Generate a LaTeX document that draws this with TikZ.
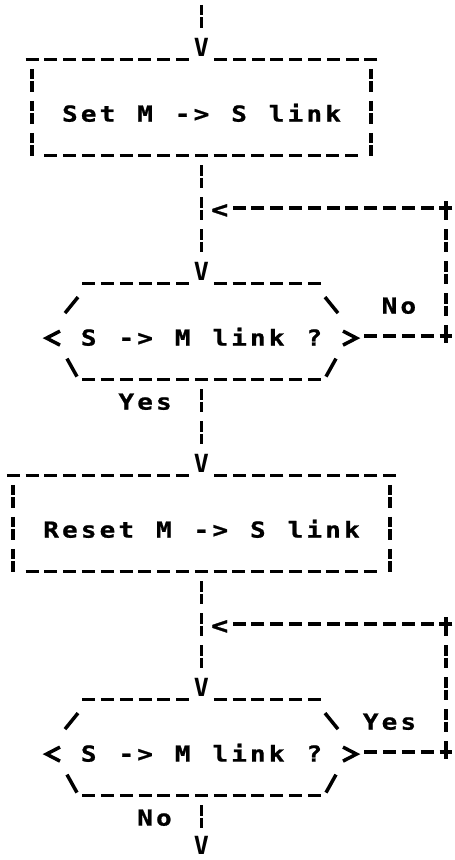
\documentclass[tikz,border=0pt]{standalone}
\usepackage{fontspec}
\newfontfamily\asciifont{DejaVu Sans Mono}
\newfontfamily\widefont[FakeStretch=1.18,FakeBold=1]{DejaVu Sans Mono}

% one fixed 18.8pt cell per character, spaces included
\ExplSyntaxOn
\NewDocumentCommand\cells{m}{\str_map_inline:nn{#1}{\makebox[18.8pt]{##1}}}
\ExplSyntaxOff

% dashed frame of a step box, V gap in the middle of the top edge
\newcommand{\stepframe}[1]{%
  \draw[ubar] ([xshift=-6.5pt]#1.north west) -- ([xshift=-12.3pt]#1.north);
  \draw[ubar] ([xshift=6.5pt]#1.north east) -- ([xshift=12.3pt]#1.north);
  \draw[ubar] ([xshift=12.3pt]#1.south west) -- ([xshift=-12.3pt]#1.south east);
  \draw[vbar] ([yshift=-9.5pt]#1.north west) -- (#1.south west);
  \draw[vbar] ([yshift=-9.5pt]#1.north east) -- (#1.south east);}

% six sided frame of a test, drawn around the base of its text
\newcommand{\testframe}[1]{%
  \begin{scope}[shift={(#1.base)}]
    \draw[ubar] (-119.3pt,62pt) -- (-12.3pt,62pt);
    \draw[ubar] (12.3pt,62pt) -- (119.3pt,62pt);
    \draw[ubar] (-119.3pt,-34pt) -- (119.3pt,-34pt);
    \draw[slant] (-136.5pt,32.5pt) -- (-123.5pt,48.5pt)
                 (136.5pt,32.5pt) -- (123.5pt,48.5pt)
                 (-141.5pt,14.5pt) -- (-155pt,7.5pt) -- (-141.5pt,0.5pt)
                 (141.5pt,14.5pt) -- (155pt,7.5pt) -- (141.5pt,0.5pt)
                 (-134.5pt,-13pt) -- (-124.5pt,-31pt)
                 (134.5pt,-13pt) -- (124.5pt,-31pt);
  \end{scope}}

\begin{document}
\begin{tikzpicture}[x=18.8pt, y=-32pt,
	txt/.style={font=\fontsize{22pt}{22pt}\widefont\bfseries, inner sep=0pt, anchor=base},
	glyph/.style={font=\fontsize{25pt}{25pt}\asciifont\bfseries, inner xsep=0pt, inner ysep=5pt, anchor=base},
	proc/.style={txt, minimum width=#1*18.8pt, text height=62pt, text depth=34pt},
	ask/.style={txt, minimum width=309.6pt, text height=62pt, text depth=34pt},
	ubar/.style={line width=3.3pt, dash pattern=on 13pt off 5.8pt},
	vbar/.style={line width=3.7pt, dash pattern=on 10.5pt off 2pt on 10.5pt off 9pt},
	down/.style={vbar, shorten <=9.5pt},
	slant/.style={line width=3.5pt}]
	\useasboundingbox (-10.718,0.5) rectangle (13.431,27.375);

	% set the link
	\coordinate (in) at (0,0.656);
	\node[proc=18] (setbox) at (0,4.3) {\cells{Set M -> S link}};
	\node[glyph] (v1) at ([yshift=2.5pt]setbox.north) {V};
	\stepframe{setbox}
	\draw[vbar] (in) -- (v1);

	% wait for the answer
	\node[ask] (q1) at (0,11.3) {\cells{S -> M link ?}};
	\node[glyph] (v2) at ([yshift=2.5pt]q1.north) {V};
	\testframe{q1}
	\draw[down] (setbox) -- (v2);

	\coordinate (c1) at (13,7);
	\coordinate (c2) at (13,11);
	\node[glyph, font=\fontsize{24pt}{24pt}\widefont\bfseries] (lt1) at (0.97,7.31) {<};
	\draw[ubar] ([xshift=7.9pt]q1.east |- c2) -- ([xshift=6.5pt]c2);
	\draw[vbar, dash phase=4pt] ([yshift=7pt]c1) -- ([yshift=-7pt]c2);
	\draw[ubar] ([xshift=6.5pt]c1) -- (c1 -| lt1.east);
	\node[txt] (no1) at (10.5,10.3) {\cells{No}};
	\node[txt] (yes1) at (-3,13.3) {\cells{Yes}};

	% reset the link
	\node[proc=20] (resetbox) at (0,17.3) {\cells{Reset M -> S link}};
	\node[glyph] (v3) at ([yshift=2.5pt]resetbox.north) {V};
	\stepframe{resetbox}
	\draw[down] (q1) -- (v3);

	% wait until it is gone
	\node[ask] (q2) at (0,24.3) {\cells{S -> M link ?}};
	\node[glyph] (v4) at ([yshift=2.5pt]q2.north) {V};
	\testframe{q2}
	\draw[down] (resetbox) -- (v4);

	\coordinate (c3) at (13,20);
	\coordinate (c4) at (13,24);
	\node[glyph, font=\fontsize{24pt}{24pt}\widefont\bfseries] (lt2) at (0.97,20.31) {<};
	\draw[ubar] ([xshift=7.9pt]q2.east |- c4) -- ([xshift=6.5pt]c4);
	\draw[vbar, dash phase=4pt] ([yshift=7pt]c3) -- ([yshift=-7pt]c4);
	\draw[ubar] ([xshift=6.5pt]c3) -- (c3 -| lt2.east);
	\node[txt] (yes2) at (10,23.3) {\cells{Yes}};
	\node[txt] (no2) at (-2.5,26.3) {\cells{No}};

	\node[glyph, inner ysep=1pt] (v5) at (0,27.2) {V};
	\draw[down] (q2) -- (v5);
\end{tikzpicture}
\end{document}
